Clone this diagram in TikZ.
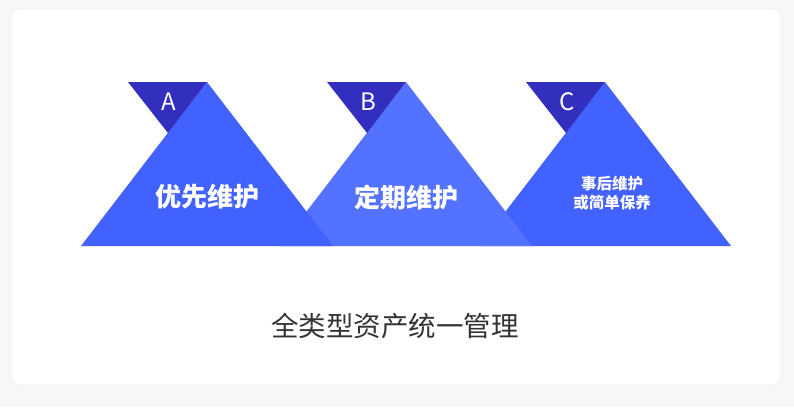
\documentclass[tikz,border=0pt]{standalone}
\usepackage{fontspec}
\usepackage{xcolor}
\usepackage{tikz}
\usetikzlibrary{positioning}
\newfontfamily\cjk{Noto Sans CJK SC}
\definecolor{pageback}{HTML}{F6F7F9}
\definecolor{cardline}{HTML}{E2E8F5}
\definecolor{peakblue}{HTML}{4262FF}
\definecolor{peaklight}{HTML}{5272FF}
\definecolor{tabindigo}{HTML}{322EBE}
\definecolor{captiongrey}{HTML}{333333}

\begin{document}
\begin{tikzpicture}[x=1pt, y=-1pt,
  card/.style={draw=cardline, fill=white, rounded corners=6pt},
  mountain/.style={fill=peakblue},
  tab/.style={fill=tabindigo},
  letter/.style={text=white, inner sep=0pt, font=\cjk\fontsize{24}{24}\selectfont},
  stage/.style={text=white, inner sep=0pt, align=center, font=\cjk\bfseries\fontsize{26}{30}\selectfont},
  stagesmall/.style={stage, font=\cjk\bfseries\fontsize{15.5}{19}\selectfont},
  caption/.style={text=captiongrey, inner sep=0pt, font=\cjk\fontsize{27.5}{30}\selectfont}]
  \useasboundingbox (0,0) rectangle (794,407);
  \fill[pageback] (0,0) rectangle (794,407);
  \draw[card] (12,9) rectangle (780,385);

  % peaks, drawn right to left so the left one lies on top
  \coordinate (peakA) at (207,82);
  \coordinate (peakB) at (406,82);
  \coordinate (peakC) at (605,82);
  \fill[mountain] (peakC) -- ++(126,164) -- ++(-252,0) -- cycle;
  \fill[mountain, fill=peaklight] (peakB) -- ++(126,164) -- ++(-252,0) -- cycle;
  \fill[mountain] (peakA) -- ++(126,164) -- ++(-252,0) -- cycle;

  % small tabs
  \fill[tab] (peakA) -- ++(-79,0) -- ++(40,51) -- cycle;
  \fill[tab] (peakB) -- ++(-79,0) -- ++(40,51) -- cycle;
  \fill[tab] (peakC) -- ++(-79,0) -- ++(40,51) -- cycle;
  \node[letter] (tabA) at (169,102) {A};
  \node[letter] (tabB) at (368,102) {B};
  \node[letter] (tabC) at (567,102) {C};

  \node[stage] (stageA) at (207,197) {优先维护};
  \node[stage] (stageB) at (406,197) {定期维护};
  \node[stagesmall] (stageC) at (612,193) {事后维护\\或简单保养};

  \node[caption] (total) at (395,326) {全类型资产统一管理};
\end{tikzpicture}
\end{document}
